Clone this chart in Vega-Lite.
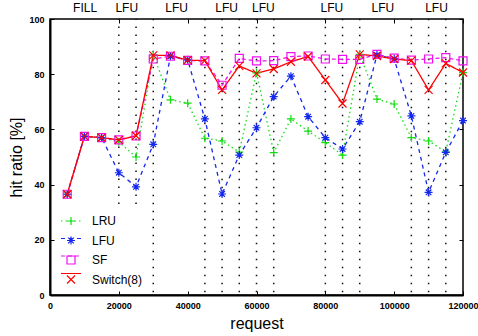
{
  "$schema": "https://vega.github.io/schema/vega-lite/v6.json",
  "width": 413,
  "height": 276,
  "autosize": {"type": "none"},
  "padding": {"left": 50, "top": 19, "right": 15, "bottom": 41},
  "background": "white",
  "config": {
    "view": {"stroke": "black", "strokeWidth": 1.5},
    "font": "Liberation Sans"
  },
  "datasets": {
    "hits": [
      {"request": 5000, "policy": "LRU", "ratio": 36.5},
      {"request": 10000, "policy": "LRU", "ratio": 57.5},
      {"request": 15000, "policy": "LRU", "ratio": 57.0},
      {"request": 20000, "policy": "LRU", "ratio": 55.5},
      {"request": 25000, "policy": "LRU", "ratio": 50.0},
      {"request": 30000, "policy": "LRU", "ratio": 87.0},
      {"request": 35000, "policy": "LRU", "ratio": 70.7},
      {"request": 40000, "policy": "LRU", "ratio": 69.5},
      {"request": 45000, "policy": "LRU", "ratio": 56.8},
      {"request": 50000, "policy": "LRU", "ratio": 55.8},
      {"request": 55000, "policy": "LRU", "ratio": 51.8},
      {"request": 60000, "policy": "LRU", "ratio": 80.5},
      {"request": 65000, "policy": "LRU", "ratio": 51.6},
      {"request": 70000, "policy": "LRU", "ratio": 63.8},
      {"request": 75000, "policy": "LRU", "ratio": 59.4},
      {"request": 80000, "policy": "LRU", "ratio": 55.2},
      {"request": 85000, "policy": "LRU", "ratio": 50.7},
      {"request": 90000, "policy": "LRU", "ratio": 87.2},
      {"request": 95000, "policy": "LRU", "ratio": 71.0},
      {"request": 100000, "policy": "LRU", "ratio": 69.2},
      {"request": 105000, "policy": "LRU", "ratio": 57.0},
      {"request": 110000, "policy": "LRU", "ratio": 55.8},
      {"request": 115000, "policy": "LRU", "ratio": 51.9},
      {"request": 120000, "policy": "LRU", "ratio": 80.6},

      {"request": 5000, "policy": "LFU", "ratio": 36.5},
      {"request": 10000, "policy": "LFU", "ratio": 57.5},
      {"request": 15000, "policy": "LFU", "ratio": 57.0},
      {"request": 20000, "policy": "LFU", "ratio": 44.3},
      {"request": 25000, "policy": "LFU", "ratio": 39.2},
      {"request": 30000, "policy": "LFU", "ratio": 54.6},
      {"request": 35000, "policy": "LFU", "ratio": 86.5},
      {"request": 40000, "policy": "LFU", "ratio": 85.2},
      {"request": 45000, "policy": "LFU", "ratio": 63.8},
      {"request": 50000, "policy": "LFU", "ratio": 36.6},
      {"request": 55000, "policy": "LFU", "ratio": 50.7},
      {"request": 60000, "policy": "LFU", "ratio": 60.6},
      {"request": 65000, "policy": "LFU", "ratio": 71.9},
      {"request": 70000, "policy": "LFU", "ratio": 79.3},
      {"request": 75000, "policy": "LFU", "ratio": 64.6},
      {"request": 80000, "policy": "LFU", "ratio": 57.0},
      {"request": 85000, "policy": "LFU", "ratio": 52.9},
      {"request": 90000, "policy": "LFU", "ratio": 62.8},
      {"request": 95000, "policy": "LFU", "ratio": 87.0},
      {"request": 100000, "policy": "LFU", "ratio": 85.5},
      {"request": 105000, "policy": "LFU", "ratio": 64.9},
      {"request": 110000, "policy": "LFU", "ratio": 37.2},
      {"request": 115000, "policy": "LFU", "ratio": 51.7},
      {"request": 120000, "policy": "LFU", "ratio": 63.2},

      {"request": 5000, "policy": "SF", "ratio": 36.5},
      {"request": 10000, "policy": "SF", "ratio": 57.5},
      {"request": 15000, "policy": "SF", "ratio": 57.0},
      {"request": 20000, "policy": "SF", "ratio": 56.2},
      {"request": 25000, "policy": "SF", "ratio": 57.6},
      {"request": 30000, "policy": "SF", "ratio": 85.5},
      {"request": 35000, "policy": "SF", "ratio": 86.5},
      {"request": 40000, "policy": "SF", "ratio": 85.0},
      {"request": 45000, "policy": "SF", "ratio": 84.8},
      {"request": 50000, "policy": "SF", "ratio": 76.0},
      {"request": 55000, "policy": "SF", "ratio": 85.7},
      {"request": 60000, "policy": "SF", "ratio": 84.8},
      {"request": 65000, "policy": "SF", "ratio": 84.9},
      {"request": 70000, "policy": "SF", "ratio": 86.4},
      {"request": 75000, "policy": "SF", "ratio": 86.6},
      {"request": 80000, "policy": "SF", "ratio": 85.5},
      {"request": 85000, "policy": "SF", "ratio": 85.4},
      {"request": 90000, "policy": "SF", "ratio": 85.4},
      {"request": 95000, "policy": "SF", "ratio": 87.2},
      {"request": 100000, "policy": "SF", "ratio": 85.8},
      {"request": 105000, "policy": "SF", "ratio": 85.1},
      {"request": 110000, "policy": "SF", "ratio": 85.5},
      {"request": 115000, "policy": "SF", "ratio": 86.0},
      {"request": 120000, "policy": "SF", "ratio": 84.8},

      {"request": 5000, "policy": "Switch(8)", "ratio": 36.5},
      {"request": 10000, "policy": "Switch(8)", "ratio": 57.5},
      {"request": 15000, "policy": "Switch(8)", "ratio": 57.0},
      {"request": 20000, "policy": "Switch(8)", "ratio": 56.2},
      {"request": 25000, "policy": "Switch(8)", "ratio": 57.7},
      {"request": 30000, "policy": "Switch(8)", "ratio": 86.8},
      {"request": 35000, "policy": "Switch(8)", "ratio": 86.8},
      {"request": 40000, "policy": "Switch(8)", "ratio": 85.1},
      {"request": 45000, "policy": "Switch(8)", "ratio": 84.9},
      {"request": 50000, "policy": "Switch(8)", "ratio": 74.3},
      {"request": 55000, "policy": "Switch(8)", "ratio": 83.0},
      {"request": 60000, "policy": "Switch(8)", "ratio": 80.3},
      {"request": 65000, "policy": "Switch(8)", "ratio": 81.9},
      {"request": 70000, "policy": "Switch(8)", "ratio": 84.5},
      {"request": 75000, "policy": "Switch(8)", "ratio": 86.4},
      {"request": 80000, "policy": "Switch(8)", "ratio": 77.9},
      {"request": 85000, "policy": "Switch(8)", "ratio": 69.4},
      {"request": 90000, "policy": "Switch(8)", "ratio": 87.2},
      {"request": 95000, "policy": "Switch(8)", "ratio": 86.6},
      {"request": 100000, "policy": "Switch(8)", "ratio": 85.5},
      {"request": 105000, "policy": "Switch(8)", "ratio": 84.9},
      {"request": 110000, "policy": "Switch(8)", "ratio": 74.3},
      {"request": 115000, "policy": "Switch(8)", "ratio": 83.9},
      {"request": 120000, "policy": "Switch(8)", "ratio": 80.6}
    ],
    "switches": [
      {"request": 20000, "bottom": 33},
      {"request": 25000, "bottom": 33},
      {"request": 30000, "bottom": 1},
      {"request": 45000, "bottom": 1},
      {"request": 50000, "bottom": 1},
      {"request": 55000, "bottom": 1},
      {"request": 60000, "bottom": 1},
      {"request": 65000, "bottom": 1},
      {"request": 80000, "bottom": 1},
      {"request": 85000, "bottom": 1},
      {"request": 90000, "bottom": 1},
      {"request": 105000, "bottom": 1},
      {"request": 110000, "bottom": 1},
      {"request": 115000, "bottom": 1}
    ],
    "phases": [
      {"request": 10200, "phase": "FILL"},
      {"request": 22300, "phase": "LFU"},
      {"request": 36800, "phase": "LFU"},
      {"request": 51300, "phase": "LFU"},
      {"request": 62000, "phase": "LFU"},
      {"request": 81900, "phase": "LFU"},
      {"request": 96700, "phase": "LFU"},
      {"request": 112300, "phase": "LFU"}
    ]
  },
  "resolve": {
    "axis": {"x": "independent", "y": "independent"},
    "legend": {"color": "independent", "shape": "independent", "strokeDash": "independent"}
  },
  "layer": [
    {
      "data": {"name": "switches"},
      "mark": {"type": "rule", "color": "#111111", "strokeWidth": 1.5, "strokeDash": [1.5, 6.5]},
      "encoding": {
        "x": {
          "field": "request", "type": "quantitative",
          "scale": {"domain": [0, 120000], "nice": false, "zero": false},
          "axis": {"orient": "top", "values": [0, 20000, 40000, 60000, 80000, 100000, 120000], "labels": false, "domain": false, "grid": false, "tickSize": -4, "tickColor": "black", "tickWidth": 1, "title": null}
        },
        "y": {
          "field": "bottom", "type": "quantitative",
          "scale": {"domain": [0, 100], "nice": false},
          "axis": {"orient": "right", "values": [0, 20, 40, 60, 80, 100], "labels": false, "domain": false, "grid": false, "tickSize": -4, "tickColor": "black", "tickWidth": 1, "title": null}
        },
        "y2": {"datum": 100}
      }
    },
    {
      "data": {"name": "hits"},
      "mark": {"type": "line", "strokeWidth": 1.3},
      "encoding": {
        "x": {
          "field": "request", "type": "quantitative",
          "axis": {
            "orient": "bottom", "values": [0, 20000, 40000, 60000, 80000, 100000, 120000], "format": "d",
            "labelFlush": false, "labelOverlap": false, "labelBound": false,
            "grid": false, "domainColor": "black", "domainWidth": 2, "tickColor": "black", "tickWidth": 1, "tickSize": -4,
            "labelFont": "Liberation Sans", "labelFontWeight": "bold", "labelFontSize": 9, "labelColor": "black", "labelPadding": 10,
            "title": "request", "titleFont": "Liberation Sans", "titleFontSize": 16, "titleFontWeight": "normal", "titleColor": "black", "titlePadding": 5
          }
        },
        "y": {
          "field": "ratio", "type": "quantitative",
          "axis": {
            "orient": "left", "values": [0, 20, 40, 60, 80, 100],
            "labelFlush": false, "labelOverlap": false,
            "grid": false, "domainColor": "black", "domainWidth": 2, "tickColor": "black", "tickWidth": 1, "tickSize": -4,
            "labelFont": "Liberation Sans", "labelFontWeight": "bold", "labelFontSize": 9, "labelColor": "black", "labelPadding": 10,
            "title": "hit ratio [%]", "titleFont": "Liberation Sans", "titleFontSize": 16, "titleFontWeight": "normal", "titleColor": "black", "titlePadding": 4
          }
        },
        "color": {
          "field": "policy", "type": "nominal",
          "scale": {"domain": ["LRU", "LFU", "SF", "Switch(8)"], "range": ["#11dd11", "#1428ee", "#f010f0", "#ff0000"]},
          "legend": {
            "orient": "none", "legendX": 15, "legendY": 196, "title": null,
            "symbolType": "M-2.5,0H2.5", "symbolSize": 64, "symbolStrokeWidth": 1.2,
            "labelFont": "Liberation Sans", "labelFontSize": 12, "labelExpr": "''", "labelOffset": 15, "rowPadding": 5.5
          }
        },
        "strokeDash": {
          "field": "policy", "type": "nominal",
          "scale": {"domain": ["LRU", "LFU", "SF", "Switch(8)"], "range": [[1.5, 3], [4, 4], [4, 3], [1, 0]]},
          "legend": {
            "orient": "none", "legendX": 15, "legendY": 196, "title": null,
            "symbolType": "M-2.5,0H2.5", "symbolSize": 64, "symbolStrokeWidth": 1.2,
            "labelFont": "Liberation Sans", "labelFontSize": 12, "labelExpr": "''", "labelOffset": 15, "rowPadding": 5.5
          }
        }
      }
    },
    {
      "data": {"name": "hits"},
      "mark": {"type": "point", "filled": false, "size": 64, "strokeWidth": 1.2, "opacity": 1},
      "encoding": {
        "x": {"field": "request", "type": "quantitative", "axis": null},
        "y": {"field": "ratio", "type": "quantitative", "axis": null},
        "color": {
          "field": "policy", "type": "nominal",
          "legend": {
            "orient": "none", "legendX": 15, "legendY": 196, "title": null,
            "symbolSize": 64, "symbolStrokeWidth": 1.2,
            "labelFont": "Liberation Sans", "labelFontSize": 12, "labelColor": "black", "labelOffset": 15, "rowPadding": 5.5
          }
        },
        "shape": {
          "field": "policy", "type": "nominal",
          "scale": {
            "domain": ["LRU", "LFU", "SF", "Switch(8)"],
            "range": [
              "M-1,0H1M0,-1V1",
              "M-1,0H1M0,-1V1M-0.7,-0.7L0.7,0.7M-0.7,0.7L0.7,-0.7",
              "M-1,-1H1V1H-1Z",
              "M-1,-1L1,1M-1,1L1,-1"
            ]
          },
          "legend": {
            "orient": "none", "legendX": 15, "legendY": 196, "title": null,
            "symbolSize": 64, "symbolStrokeWidth": 1.2,
            "labelFont": "Liberation Sans", "labelFontSize": 12, "labelColor": "black", "labelOffset": 15, "rowPadding": 5.5
          }
        }
      }
    },
    {
      "data": {"name": "phases"},
      "mark": {"type": "text", "font": "Liberation Sans", "fontSize": 12, "color": "black", "baseline": "middle", "align": "center"},
      "encoding": {
        "x": {"field": "request", "type": "quantitative", "axis": null},
        "y": {"datum": 104, "type": "quantitative", "axis": null},
        "text": {"field": "phase"}
      }
    }
  ]
}
